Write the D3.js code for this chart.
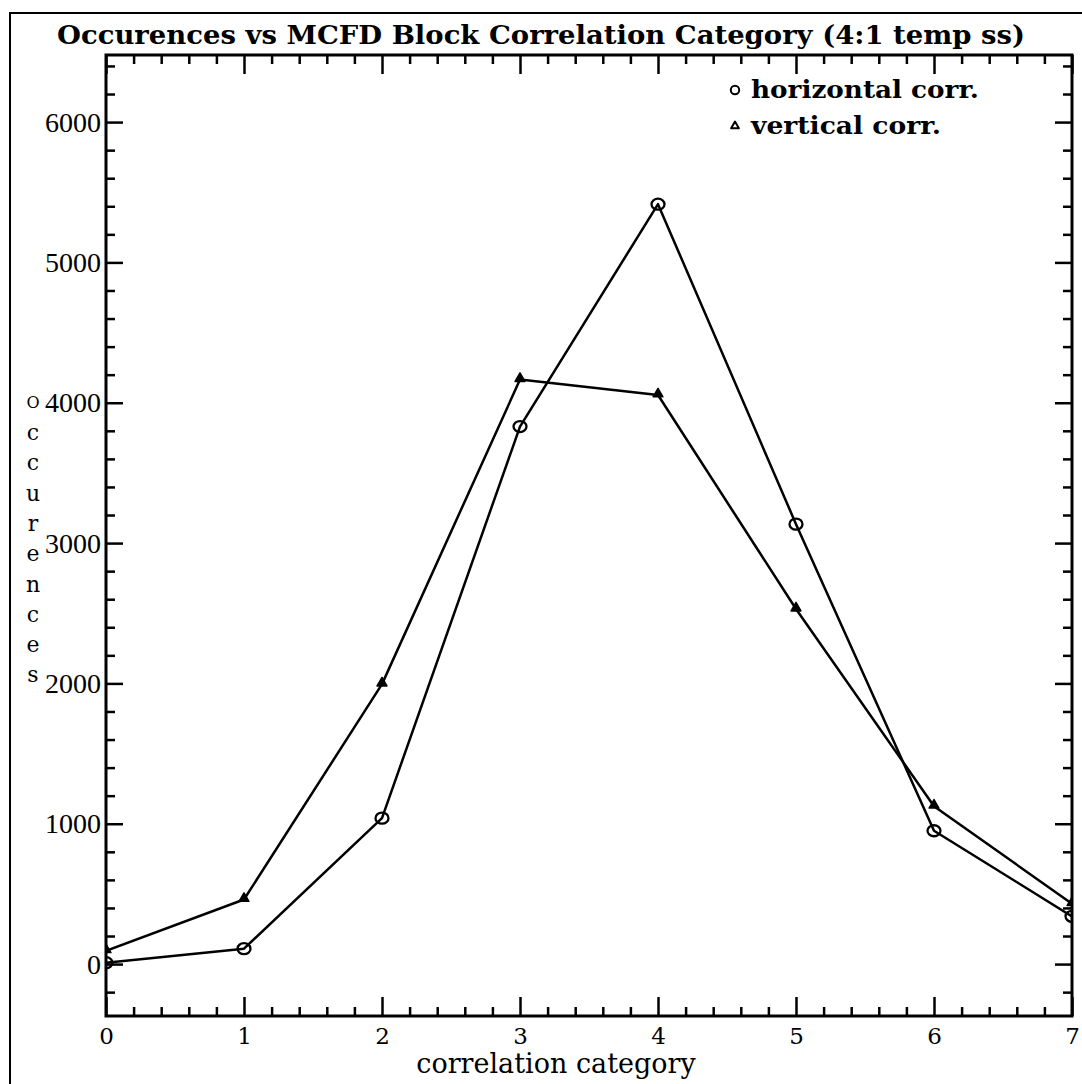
<!DOCTYPE html>
<html>
<head>
<meta charset="utf-8">
<script src="https://cdn.jsdelivr.net/npm/d3@7"></script>
<style>
  html, body { margin: 0; padding: 0; background: #fff; }
  svg { display: block; }
</style>
</head>
<body>
<svg id="chart" width="1082" height="1084"></svg>
<script>
// ---- data ----
const categories = [0, 1, 2, 3, 4, 5, 6, 7];
const horizontalCorr = [10, 110, 1040, 3830, 5415, 3135, 950, 340];
const verticalCorr = [95, 460, 1995, 4165, 4055, 2530, 1125, 430];
const xTickValues = [0, 1, 2, 3, 4, 5, 6, 7];
const yTickValues = [0, 1000, 2000, 3000, 4000, 5000, 6000];
const yTickLabels = ["0", "1000", "2000", "3000", "4000", "5000", "6000"];
const titleText = "Occurences vs MCFD Block Correlation Category (4:1 temp ss)";
const xTitleText = "correlation category";
const yTitleText = "Occurences";
const legendLabels = ["horizontal corr.", "vertical corr."];

// ---- layout ----
const W = 1082, H = 1084;
const plot = { left: 106, right: 1072, top: 55, bottom: 1016 };
const serif = "'DejaVu Serif', serif";
const timesLike = "'Liberation Serif', 'Times New Roman', serif";

const svg = d3.select("#chart");

const x = d3.scaleLinear().domain([0, 7]).range([plot.left, plot.right]);
const y = d3.scaleLinear().domain([-370, 6478]).range([plot.bottom, plot.top]);

// page border (left and top edges of the sheet)
svg.append("path")
  .attr("d", `M10,${H} L10,13 L${W},13`)
  .attr("fill", "none").attr("stroke", "#000").attr("stroke-width", 2);

// title
svg.append("text")
  .attr("x", 541).attr("y", 44)
  .attr("text-anchor", "middle")
  .attr("font-family", serif).attr("font-weight", "bold").attr("font-size", 26)
  .attr("textLength", 968).attr("lengthAdjust", "spacingAndGlyphs")
  .text(titleText);

// minor tick positions
const xMinor = d3.range(0, 7.0001, 0.2).filter(v => Math.abs(v - Math.round(v)) > 1e-6);
const yMinor = d3.range(-200, 6401, 200).filter(v => v % 1000 !== 0);

function styleAxis(sel) {
  sel.select(".domain").remove();
  sel.selectAll(".tick line").attr("stroke", "#000").attr("stroke-width", 2.5);
}

// bottom axis: major ticks with labels
svg.append("g")
  .attr("transform", `translate(0,${plot.bottom})`)
  .call(d3.axisBottom(x).tickValues(xTickValues).tickSizeInner(-19).tickSizeOuter(0)
    .tickPadding(12).tickFormat(d3.format("d")))
  .call(styleAxis)
  .call(g => g.selectAll("text").attr("font-family", serif).attr("font-size", 23).attr("fill", "#000"));
// bottom minor ticks
svg.append("g")
  .attr("transform", `translate(0,${plot.bottom})`)
  .call(d3.axisBottom(x).tickValues(xMinor).tickSizeInner(-9).tickSizeOuter(0).tickFormat(""))
  .call(styleAxis);
// top axis mirrors
svg.append("g")
  .attr("transform", `translate(0,${plot.top})`)
  .call(d3.axisTop(x).tickValues(xTickValues).tickSizeInner(-19).tickSizeOuter(0).tickFormat(""))
  .call(styleAxis);
svg.append("g")
  .attr("transform", `translate(0,${plot.top})`)
  .call(d3.axisTop(x).tickValues(xMinor).tickSizeInner(-9).tickSizeOuter(0).tickFormat(""))
  .call(styleAxis);

// left axis: major ticks with labels
svg.append("g")
  .attr("transform", `translate(${plot.left},0)`)
  .call(d3.axisLeft(y).tickValues(yTickValues).tickSizeInner(-17).tickSizeOuter(0)
    .tickPadding(5).tickFormat((d, i) => yTickLabels[i]))
  .call(styleAxis)
  .call(g => g.selectAll("text").attr("font-family", timesLike).attr("font-size", 28).attr("fill", "#000"));
svg.append("g")
  .attr("transform", `translate(${plot.left},0)`)
  .call(d3.axisLeft(y).tickValues(yMinor).tickSizeInner(-9).tickSizeOuter(0).tickFormat(""))
  .call(styleAxis);
// right axis mirrors
svg.append("g")
  .attr("transform", `translate(${plot.right},0)`)
  .call(d3.axisRight(y).tickValues(yTickValues).tickSizeInner(-17).tickSizeOuter(0).tickFormat(""))
  .call(styleAxis);
svg.append("g")
  .attr("transform", `translate(${plot.right},0)`)
  .call(d3.axisRight(y).tickValues(yMinor).tickSizeInner(-9).tickSizeOuter(0).tickFormat(""))
  .call(styleAxis);

// plot frame
svg.append("rect")
  .attr("x", plot.left).attr("y", plot.top)
  .attr("width", plot.right - plot.left).attr("height", plot.bottom - plot.top)
  .attr("fill", "none").attr("stroke", "#000").attr("stroke-width", 3);

// clip region for the data
svg.append("clipPath").attr("id", "plot-clip")
  .append("rect")
  .attr("x", plot.left).attr("y", plot.top)
  .attr("width", plot.right - plot.left).attr("height", plot.bottom - plot.top);

const dataLayer = svg.append("g").attr("clip-path", "url(#plot-clip)");

const line = d3.line().x((d, i) => x(categories[i])).y(d => y(d));

// horizontal correlation series (open circles)
dataLayer.append("path")
  .datum(horizontalCorr)
  .attr("d", line)
  .attr("fill", "none").attr("stroke", "#000").attr("stroke-width", 2.5)
  .attr("stroke-linejoin", "round");
dataLayer.selectAll("ellipse.hc")
  .data(horizontalCorr)
  .join("ellipse")
  .attr("class", "hc")
  .attr("cx", (d, i) => x(categories[i])).attr("cy", d => y(d))
  .attr("rx", 6.5).attr("ry", 5.5)
  .attr("fill", "none").attr("stroke", "#000").attr("stroke-width", 2.3);

// vertical correlation series (triangles)
dataLayer.append("path")
  .datum(verticalCorr)
  .attr("d", line)
  .attr("fill", "none").attr("stroke", "#000").attr("stroke-width", 2.5)
  .attr("stroke-linejoin", "round");
const tri = d3.symbol().type(d3.symbolTriangle).size(42);
dataLayer.selectAll("path.vc")
  .data(verticalCorr)
  .join("path")
  .attr("class", "vc")
  .attr("d", tri)
  .attr("transform", (d, i) => `translate(${x(categories[i])},${y(d) - 1})`)
  .attr("fill", "#000").attr("stroke", "#000").attr("stroke-width", 1.5)
  .attr("stroke-linejoin", "round");

// legend
const legend = svg.append("g");
legend.append("circle")
  .attr("cx", 735).attr("cy", 90).attr("r", 4.2)
  .attr("fill", "none").attr("stroke", "#000").attr("stroke-width", 2);
legend.append("path")
  .attr("d", d3.symbol().type(d3.symbolTriangle).size(26))
  .attr("transform", "translate(735,126)")
  .attr("fill", "#fff").attr("stroke", "#000").attr("stroke-width", 2)
  .attr("stroke-linejoin", "round");
const legendWidths = [228, 190];
legend.selectAll("text")
  .data(legendLabels)
  .join("text")
  .attr("x", 751).attr("y", (d, i) => 90 + i * 36)
  .attr("dy", "0.35em")
  .attr("font-family", serif).attr("font-weight", "bold").attr("font-size", 24)
  .attr("textLength", (d, i) => legendWidths[i]).attr("lengthAdjust", "spacingAndGlyphs")
  .text(d => d);

// x-axis title
svg.append("text")
  .attr("x", 556).attr("y", 1073)
  .attr("text-anchor", "middle")
  .attr("font-family", serif).attr("font-size", 27)
  .text(xTitleText);

// y-axis title, one letter per line
const yTitle = svg.append("text")
  .attr("font-family", serif).attr("font-size", 22)
  .attr("text-anchor", "middle");
yTitle.selectAll("tspan")
  .data(yTitleText.split(""))
  .join("tspan")
  .attr("x", 33)
  .attr("y", (d, i) => 402 + i * 30.3)
  .attr("dy", "0.35em")
  .attr("font-size", (d, i) => i === 0 ? 16 : 22)
  .text(d => d);
</script>
</body>
</html>
